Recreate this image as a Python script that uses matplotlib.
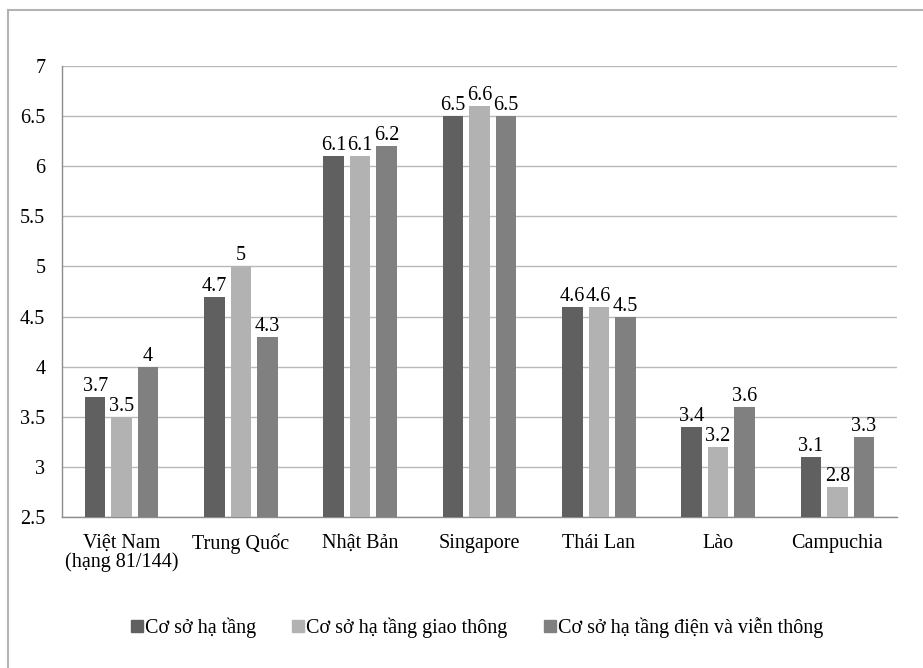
import matplotlib
matplotlib.use("Agg")
import matplotlib.pyplot as plt
import numpy as np
from matplotlib.lines import Line2D

categories = ["Việt Nam\n(hạng 81/144)", "Trung Quốc", "Nhật Bản", "Singapore", "Thái Lan", "Lào", "Campuchia"]
series_names = ["Cơ sở hạ tầng", "Cơ sở hạ tầng giao thông", "Cơ sở hạ tầng điện và viễn thông"]
s1 = [3.7, 4.7, 6.1, 6.5, 4.6, 3.4, 3.1]
s2 = [3.5, 5.0, 6.1, 6.6, 4.6, 3.2, 2.8]
s3 = [4.0, 4.3, 6.2, 6.5, 4.5, 3.6, 3.3]
yticks = [2.5, 3, 3.5, 4, 4.5, 5, 5.5, 6, 6.5, 7]
colors = ["#606060", "#b2b2b2", "#808080"]

FAM = 'Liberation Serif'
plt.rcParams['font.family'] = FAM
FS = 14.5

W, H = 923, 668
fig = plt.figure(figsize=(W/100, H/100), dpi=100)
ax = fig.add_axes([62/W, 1-517/H, (897-62)/W, (517-66)/H])

x = np.arange(len(categories))
step = 0.222
width = 0.172
for i, (vals, c) in enumerate(zip([s1, s2, s3], colors)):
    pos = x + (i-1)*step
    ax.bar(pos, [v-2.5 for v in vals], width, bottom=2.5, color=c, zorder=3)
    for p, v in zip(pos, vals):
        ax.text(p, v+0.01, f"{v:g}", ha='center', va='bottom', fontsize=FS, family=FAM, zorder=4)

ax.set_ylim(2.5, 7)
ax.set_xlim(-0.5, len(categories)-0.5)
ax.set_yticks(yticks)
ax.set_yticklabels([f"{t:g}" for t in yticks], fontsize=FS, family=FAM)
ax.set_xticks(x)
ax.set_xticklabels(categories, fontsize=FS, family=FAM, linespacing=1.0)
ax.tick_params(axis='y', length=0, pad=12)
ax.tick_params(axis='x', length=0, pad=12)
ax.yaxis.grid(True, color='#b8b8b8', linewidth=1, zorder=0)
for s in ['top', 'right']:
    ax.spines[s].set_visible(False)
for s in ['left', 'bottom']:
    ax.spines[s].set_color('#8c8c8c')
    ax.spines[s].set_linewidth(1)

handles = [Line2D([0], [0], marker='s', linestyle='none', markersize=8, markerfacecolor=c, markeredgecolor=c) for c in colors]
fig.legend(handles, series_names, loc='center', bbox_to_anchor=(477/W, 1-628/H), ncol=3, frameon=False,
           prop={'family': FAM, 'size': FS}, handletextpad=0.1, columnspacing=1.8, handlelength=0.6)

# outer border (top and left)
fig.add_artist(Line2D([8/W, 1], [1-10/H, 1-10/H], color='#b4b4b4', linewidth=1.5, transform=fig.transFigure))
fig.add_artist(Line2D([8/W, 8/W], [1-10/H, 0], color='#b4b4b4', linewidth=1.5, transform=fig.transFigure))

fig.savefig("out.png", dpi=100)
